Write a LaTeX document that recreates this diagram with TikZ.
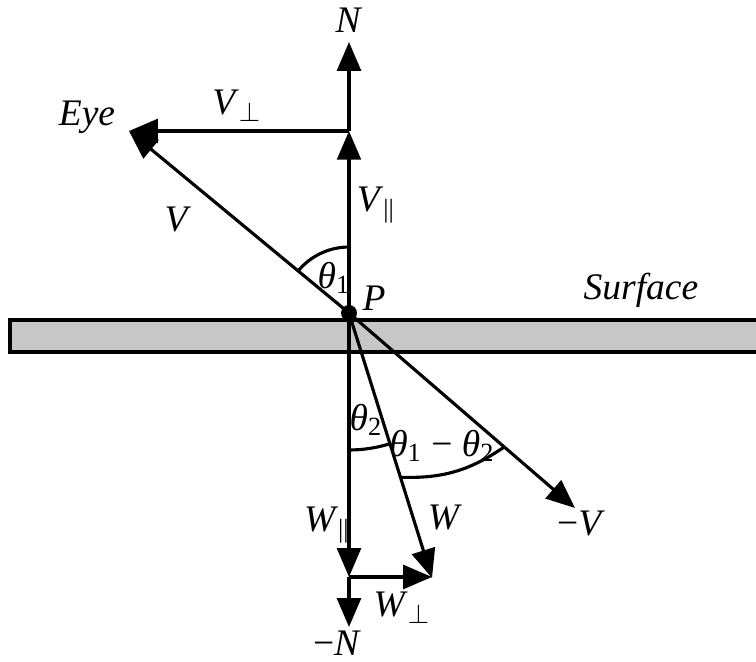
\documentclass[tikz,border=0pt]{standalone}
\usepackage{fontspec}
\setmainfont{Liberation Serif}
\usetikzlibrary{arrows.meta,calc}

\begin{document}
\begin{tikzpicture}[x=0.4pt,y=0.4pt,line width=1.25pt,
    vec/.style={-{Triangle[length=11.5pt,width=9.5pt]}},
    lbl/.style={inner sep=0pt,font=\fontsize{15}{17}\selectfont}]

\useasboundingbox (0,0) rectangle (756,662);

% Surface
\draw[fill=black!22] (10,310) rectangle (775,342);

% Points
\coordinate (P) at (349,349);
\coordinate (Nt) at (349,620);
\coordinate (Vpar) at (349,531);
\coordinate (Eye) at (129,531);
\coordinate (mV) at (575,154);
\coordinate (Wt) at (432,84);
\coordinate (Wpar) at (349,85);
\coordinate (Wperp) at (432,85);
\coordinate (mN) at (349,35);

% Vectors
\draw[vec] (P) -- (Vpar);
\draw[vec] (Vpar) -- (Nt);
\draw[vec] (Vpar) -- (Eye);
\draw[vec] (P) -- (Eye);
\draw[vec] (P) -- (mV);
\draw[vec] (P) -- (Wpar);
\draw[vec] (Wpar) -- (mN);
\draw[vec] (Wpar) -- (Wperp);
\draw[vec] (P) -- (Wt);

% Angles
\draw (349,415) arc (90:140.4:66);
\draw (349,212) arc (270:287.4:137);
\coordinate (a1) at ($(P)!0.62!(Wt)$);
\coordinate (a2) at ($(P)!0.687!(mV)$);
\draw (a1) to[bend right=18] (a2);

\fill (P) circle (8);

% Labels
\node[lbl] (lN) at (349,642) {\textit{N}};
\node[lbl] (lEye) at (87,545) {\textit{Eye}};
\node[lbl] (lVperp) at (237,556) {\textit{V}$_\perp$};
\node[lbl] (lVpar) at (376,457) {\textit{V}\textsubscript{||}};
\node[lbl] (lV) at (178,442) {\textit{V}};
\node[lbl] (lth1) at (334,384) {\textit{θ}\textsubscript{1}};
\node[lbl] (lP) at (374,364) {\textit{P}};
\node[lbl] (lSurf) at (641,372) {\textit{Surface}};
\node[lbl] (lth2) at (366,242) {\textit{θ}\textsubscript{2}};
\node[lbl] (lth12) at (442,216) {\textit{θ}\textsubscript{1} − \textit{θ}\textsubscript{2}};
\node[lbl] (lWpar) at (327,137) {\textit{W}\textsubscript{||}};
\node[lbl] (lW) at (445,144) {\textit{W}};
\node[lbl] (lmV) at (581,138) {−\textit{V}};
\node[lbl] (lWperp) at (402,54) {\textit{W}$_\perp$};
\node[lbl] (lmN) at (337,19) {−\textit{N}};

\end{tikzpicture}
\end{document}
